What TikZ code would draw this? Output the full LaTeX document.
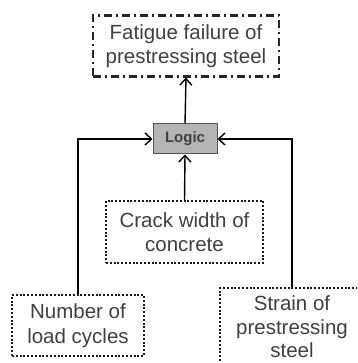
\documentclass[tikz,border=0pt]{standalone}
\usepackage{fontspec}
\setmainfont{Liberation Sans}
\usetikzlibrary{arrows.meta}
\definecolor{txt}{HTML}{404040}
\definecolor{logicfill}{HTML}{B4B4B4}
\definecolor{logicdraw}{HTML}{555555}
\begin{document}
\begin{tikzpicture}[x=1pt,y=-1pt,
  lbl/.style={text=txt, font=\fontsize{20.5}{24.5}\selectfont, align=center, inner sep=0pt},
  dotbox/.style={lbl, draw=black!90, line width=2.2pt, dash pattern=on 2pt off 1.8pt},
  dashdotbox/.style={lbl, draw=black!85, line width=2.2pt, dash pattern=on 8pt off 4pt on 2pt off 4pt},
  logicbox/.style={draw=logicdraw, fill=logicfill, line width=1pt, text=txt, font=\fontsize{15}{17}\selectfont\bfseries, inner sep=0pt},
  arr/.style={line width=1.4pt, -{Straight Barb[length=6.5pt,width=12pt]}}
]
\useasboundingbox (0,0) rectangle (357,363);
\clip (0,0) rectangle (357,363);
\node[dashdotbox, minimum width=186pt, minimum height=61pt] (top) at (186,46) {Fatigue failure of\\prestressing steel};
\node[logicbox, minimum width=64pt, minimum height=30pt] (logic) at (185,139) {Logic};
\node[dotbox, minimum width=157pt, minimum height=62pt] (crack) at (184.5,232) {Crack width of\\concrete};
\node[dotbox, minimum width=132pt, minimum height=61pt] (number) at (78,325.5) {Number of\\load cycles};
\node[dotbox, minimum width=144pt, minimum height=78pt, font=\fontsize{20.5}{23.5}\selectfont] (strain) at (292,327) {Strain of\\prestressing\\steel};
\draw[arr] (logic.north) -- (top.south);
\draw[arr] (crack.north) -- (logic.south);
\draw[arr] (number.north) |- (logic.west);
\draw[arr] (strain.north) |- (logic.east);
\end{tikzpicture}
\end{document}
